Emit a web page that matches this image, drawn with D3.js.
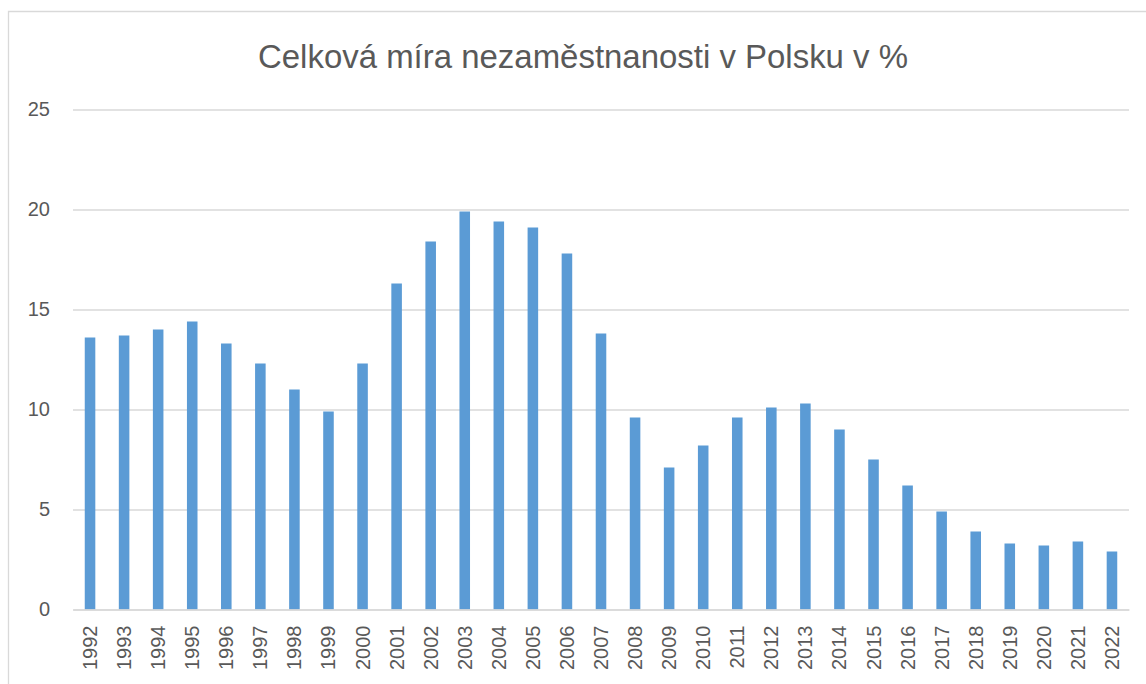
<!DOCTYPE html>
<html>
<head>
<meta charset="utf-8">
<script src="https://cdn.jsdelivr.net/npm/d3@7"></script>
<style>
  html, body { margin: 0; padding: 0; background: #fff; }
  svg { display: block; }
</style>
</head>
<body>
<svg id="chart" width="1146" height="684"></svg>
<script>
const title = "Celková míra nezaměstnanosti v Polsku v %";
const years = ["1992","1993","1994","1995","1996","1997","1998","1999","2000","2001","2002","2003","2004","2005","2006","2007","2008","2009","2010","2011","2012","2013","2014","2015","2016","2017","2018","2019","2020","2021","2022"];
const values = [13.6,13.7,14.0,14.4,13.3,12.3,11.0,9.9,12.3,16.3,18.4,19.9,19.4,19.1,17.8,13.8,9.6,7.1,8.2,9.6,10.1,10.3,9.0,7.5,6.2,4.9,3.9,3.3,3.2,3.4,2.9];
const yTicks = [0,5,10,15,20,25];

(function () {
const svg = d3.select("#chart");
const font = "'Liberation Sans', Arial, sans-serif";
const textColor = "#595959";
const gridColor = "#d9d9d9";

// chart border
svg.append("path")
  .attr("d", "M8.5,700 V11.5 H1160")
  .attr("fill", "none").attr("stroke", gridColor).attr("stroke-width", 1.3);

const pLeft = 73, pRight = 1129, pTop = 109.5, pBottom = 609.5;

const x = d3.scaleBand().domain(years).range([pLeft, pRight]).paddingInner(0.69).paddingOuter(0.345);
const y = d3.scaleLinear().domain([0, 25]).range([pBottom, pTop]);

// gridlines
const yAxis = d3.axisLeft(y).tickValues(yTicks).tickSize(-(pRight - pLeft)).tickPadding(23);
const gy = svg.append("g").attr("transform", `translate(${pLeft},0)`).call(yAxis);
gy.select(".domain").remove();
gy.selectAll(".tick line").attr("stroke", gridColor).attr("stroke-width", 1.3);
gy.selectAll(".tick text").attr("fill", textColor).style("font-family", font).style("font-size", "20px");

// bars
svg.append("g").selectAll("rect").data(values).join("rect")
  .attr("x", (d, i) => x(years[i]))
  .attr("width", x.bandwidth())
  .attr("y", d => y(d))
  .attr("height", d => y(0) - y(d))
  .attr("fill", "#5b9bd5");

// x axis
const xAxis = d3.axisBottom(x).tickSize(0).tickPadding(0);
const gx = svg.append("g").attr("transform", `translate(0,${pBottom})`).call(xAxis);
gx.select(".domain").attr("stroke", gridColor).attr("stroke-width", 1.3);
gx.selectAll(".tick text")
  .attr("fill", textColor).style("font-family", font).style("font-size", "20px")
  .attr("text-anchor", "end")
  .attr("transform", "rotate(-90)")
  .attr("x", -16).attr("y", 0).attr("dy", "0.35em");

// title
const t = svg.append("text")
  .attr("x", 583).attr("y", 68)
  .attr("text-anchor", "middle")
  .attr("fill", textColor)
  .style("font-family", font).style("font-size", "34px")
  .text(title);
const w = t.node().getComputedTextLength();
if (Math.abs(w - 650) > 4) {
  t.attr("textLength", 650).attr("lengthAdjust", "spacingAndGlyphs");
}
})();
</script>
</body>
</html>
